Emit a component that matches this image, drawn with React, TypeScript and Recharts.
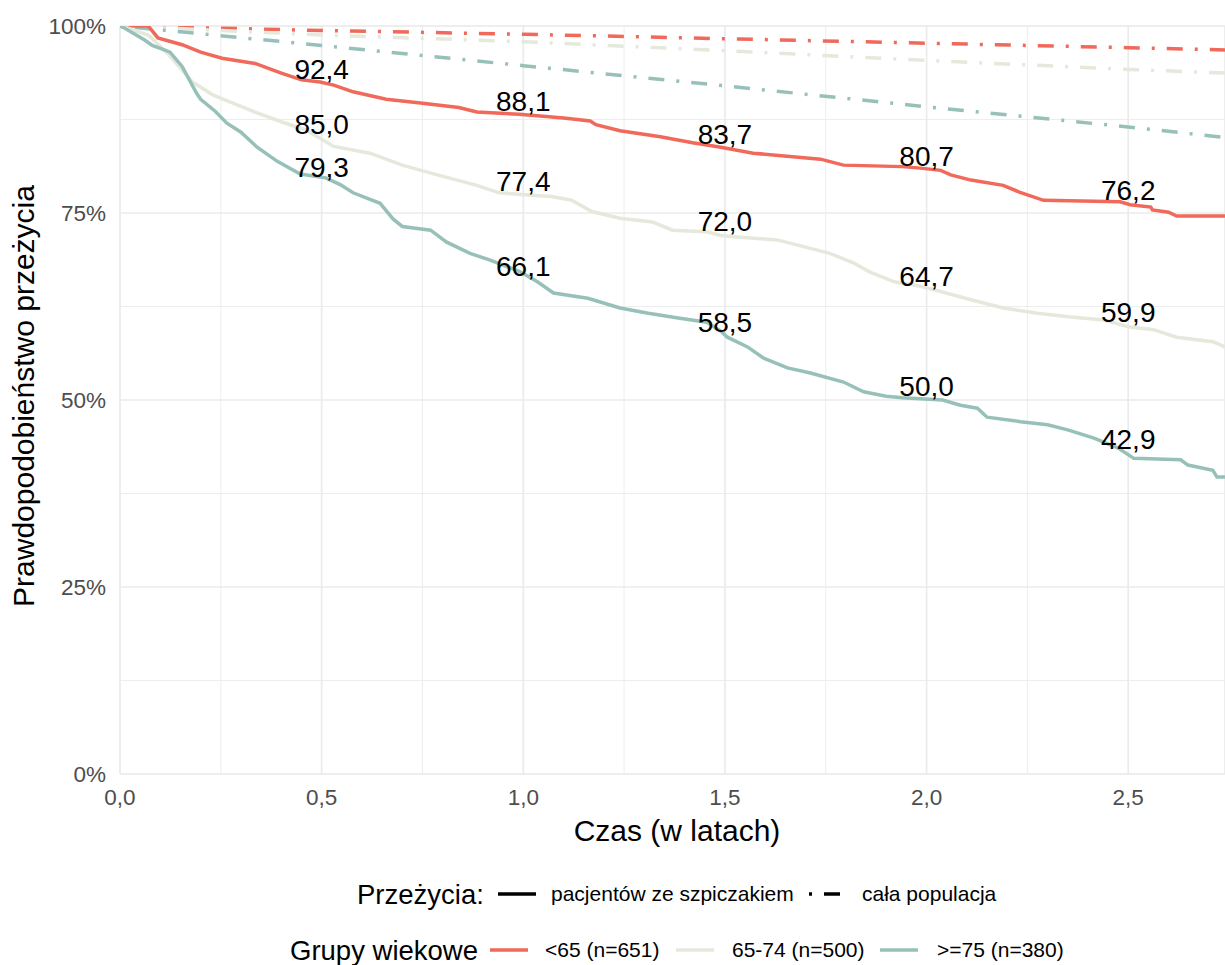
import React from 'react';
import { LineChart, Line, XAxis, YAxis, CartesianGrid, LabelList } from 'recharts';

const FONT = '"Liberation Sans", Arial, sans-serif';

// ---- colours ----
const RED = '#F0695A';
const LIGHT = '#E4E9DC';
const TEAL = '#97C1B8';

// ---- axes ----
const X_MAX = 2.74;
const xTicks = [0, 0.5, 1, 1.5, 2, 2.5];
const xMinor = [0.25, 0.75, 1.25, 1.75, 2.25];
const yTicks = [0, 25, 50, 75, 100];
const yMinor = [12.5, 37.5, 62.5, 87.5];

// ---- Kaplan-Meier: <65 (n=651) ----
const timesLt65 = [0, 0.07, 0.094, 0.154, 0.2, 0.253, 0.335, 0.4, 0.45, 0.496, 0.53, 0.578, 0.66, 0.745, 0.84, 0.885, 0.99, 1.1, 1.166, 1.18, 1.24, 1.34, 1.42, 1.49, 1.57, 1.737, 1.794, 1.94, 1.985, 2.035, 2.06, 2.11, 2.19, 2.23, 2.29, 2.48, 2.505, 2.556, 2.56, 2.6, 2.62, 2.74];
const survLt65 = [100, 100, 98.4, 97.5, 96.5, 95.7, 95.0, 93.7, 92.8, 92.5, 92.1, 91.2, 90.2, 89.7, 89.1, 88.5, 88.2, 87.7, 87.3, 86.8, 86.0, 85.2, 84.4, 83.8, 83.0, 82.2, 81.4, 81.2, 81.0, 80.7, 80.1, 79.4, 78.7, 77.8, 76.7, 76.5, 76.1, 75.8, 75.4, 75.1, 74.6, 74.6];

// ---- Kaplan-Meier: 65-74 (n=500) ----
const times6574 = [0, 0.02, 0.07, 0.117, 0.149, 0.18, 0.23, 0.28, 0.335, 0.4, 0.46, 0.496, 0.53, 0.62, 0.7, 0.787, 0.885, 0.94, 1.04, 1.07, 1.12, 1.17, 1.24, 1.32, 1.37, 1.455, 1.49, 1.53, 1.63, 1.695, 1.76, 1.82, 1.86, 1.92, 1.985, 2.035, 2.11, 2.19, 2.275, 2.357, 2.44, 2.5, 2.563, 2.62, 2.71, 2.74];
const surv6574 = [100, 99.7, 98.8, 96.4, 94.4, 92.5, 90.8, 89.7, 88.5, 87.2, 86.1, 85.0, 83.9, 83.0, 81.4, 80.1, 78.7, 77.7, 77.3, 77.2, 76.7, 75.2, 74.3, 73.8, 72.7, 72.5, 72.0, 71.8, 71.4, 70.5, 69.6, 68.3, 67.1, 65.8, 65.2, 64.5, 63.4, 62.3, 61.6, 61.1, 60.7, 59.8, 59.4, 58.4, 57.8, 57.1];

// ---- Kaplan-Meier: >=75 (n=380) ----
const timesGe75 = [0, 0.012, 0.062, 0.08, 0.11, 0.124, 0.154, 0.19, 0.2, 0.236, 0.265, 0.3, 0.34, 0.39, 0.447, 0.51, 0.546, 0.578, 0.645, 0.677, 0.7, 0.77, 0.81, 0.868, 0.918, 0.99, 1.035, 1.075, 1.16, 1.24, 1.31, 1.38, 1.455, 1.49, 1.506, 1.556, 1.596, 1.655, 1.712, 1.794, 1.844, 1.9, 1.94, 2.04, 2.084, 2.126, 2.15, 2.233, 2.3, 2.35, 2.415, 2.474, 2.514, 2.63, 2.648, 2.71, 2.72, 2.74];
const survGe75 = [100, 99.7, 98.1, 97.4, 96.8, 96.5, 94.6, 91.0, 90.2, 88.6, 87.0, 85.8, 83.8, 81.9, 80.2, 79.7, 78.8, 77.7, 76.3, 74.2, 73.2, 72.7, 71.1, 69.6, 68.7, 67.2, 65.8, 64.3, 63.6, 62.3, 61.6, 61.0, 60.4, 59.2, 58.4, 57.1, 55.6, 54.3, 53.6, 52.4, 51.1, 50.5, 50.3, 50.0, 49.3, 48.9, 47.7, 47.1, 46.7, 46.0, 44.9, 43.6, 42.2, 42.0, 41.3, 40.6, 39.7, 39.7];

// ---- expected survival of the whole population (dash-dot) ----
const popTimes = [0, 0.5, 1, 1.5, 2, 2.5, 2.74];
const popLt65 = [100, 99.4, 98.9, 98.3, 97.7, 97.1, 96.8];
const pop6574 = [100, 98.8, 97.9, 96.7, 95.4, 94.2, 93.7];
const popGe75 = [100, 97.4, 94.7, 92.0, 89.2, 86.5, 85.1];

// ---- annotated values ----
const labelTimes = [0.5, 1, 1.5, 2, 2.5];
const labelsLt65 = [92.4, 88.1, 83.7, 80.7, 76.2];
const labels6574 = [85.0, 77.4, 72.0, 64.7, 59.9];
const labelsGe75 = [79.3, 66.1, 58.5, 50.0, 42.9];

// ---- legend texts ----
const legendTitle1 = 'Przeżycia:';
const legendItems1 = ['pacjentów ze szpiczakiem', 'cała populacja'];
const legendTitle2 = 'Grupy wiekowe';
const legendItems2 = ['<65 (n=651)', '65-74 (n=500)', '>=75 (n=380)'];

const xTitle = 'Czas (w latach)';
const yTitle = 'Prawdopodobieństwo przeżycia';

const zip = (ts: number[], vs: number[]) => ts.map((t, i) => ({ t, s: vs[i] }));

const kmLt65 = zip(timesLt65, survLt65);
const km6574 = zip(times6574, surv6574);
const kmGe75 = zip(timesGe75, survGe75);
const pLt65 = zip(popTimes, popLt65);
const p6574 = zip(popTimes, pop6574);
const pGe75 = zip(popTimes, popGe75);
const lLt65 = zip(labelTimes, labelsLt65);
const l6574 = zip(labelTimes, labels6574);
const lGe75 = zip(labelTimes, labelsGe75);

const comma = (v: number) => v.toFixed(1).replace('.', ',');

const DASHDOT = '3 12 16 12';

const renderValueLabel = (props: any) => {
  const { x, y, value } = props;
  return (
    <text x={x} y={y - 4} textAnchor="middle" fontSize={28} fontFamily={FONT} fill="#000">
      {comma(Number(value))}
    </text>
  );
};

const tickStyle = { fill: '#4D4D4D', fontSize: 22.5, fontFamily: FONT };

export default function App() {
  const lineCommon = {
    dataKey: 's',
    type: 'linear' as const,
    dot: false,
    activeDot: false,
    isAnimationActive: false,
    strokeWidth: 3.5,
  };
  return (
    <div style={{ position: 'absolute', left: 0, top: 0, width: 1225, height: 965, background: '#fff', fontFamily: FONT }}>
      <LineChart width={1225} height={965} margin={{ top: 26, right: 0, bottom: 161, left: 0 }}>
        <XAxis xAxisId="minor" type="number" dataKey="t" domain={[0, X_MAX]} ticks={xMinor} hide allowDataOverflow />
        <YAxis yAxisId="minor" type="number" domain={[0, 100]} ticks={yMinor} hide allowDataOverflow />
        <CartesianGrid xAxisId="minor" yAxisId="minor" stroke="#EBEBEB" strokeWidth={0.9} />
        <XAxis
          type="number"
          dataKey="t"
          domain={[0, X_MAX]}
          ticks={xTicks}
          tickFormatter={comma}
          axisLine={false}
          tickLine={false}
          tickSize={0}
          tickMargin={15}
          height={30}
          tick={tickStyle}
          allowDataOverflow
          interval={0}
        />
        <YAxis
          type="number"
          domain={[0, 100]}
          ticks={yTicks}
          tickFormatter={(v: number) => `${v}%`}
          axisLine={false}
          tickLine={false}
          tickSize={0}
          tickMargin={14}
          width={120}
          tick={tickStyle}
          allowDataOverflow
          interval={0}
        />
        <CartesianGrid stroke="#EBEBEB" strokeWidth={1.7} />

        <Line {...lineCommon} data={pLt65} stroke={RED} strokeDasharray={DASHDOT} />
        <Line {...lineCommon} data={p6574} stroke={LIGHT} strokeDasharray={DASHDOT} />
        <Line {...lineCommon} data={pGe75} stroke={TEAL} strokeDasharray={DASHDOT} />

        <Line {...lineCommon} data={kmLt65} stroke={RED} />
        <Line {...lineCommon} data={km6574} stroke={LIGHT} />
        <Line {...lineCommon} data={kmGe75} stroke={TEAL} />

        <Line {...lineCommon} data={lLt65} stroke="none">
          <LabelList dataKey="s" content={renderValueLabel} />
        </Line>
        <Line {...lineCommon} data={l6574} stroke="none">
          <LabelList dataKey="s" content={renderValueLabel} />
        </Line>
        <Line {...lineCommon} data={lGe75} stroke="none">
          <LabelList dataKey="s" content={renderValueLabel} />
        </Line>
      </LineChart>

      <svg
        width={1225}
        height={965}
        style={{ position: 'absolute', left: 0, top: 0, pointerEvents: 'none' }}
        fontFamily={FONT}
      >
        <text x={677} y={841} textAnchor="middle" fontSize={30} fill="#000">{xTitle}</text>
        <text x={34} y={396} textAnchor="middle" fontSize={30} fill="#000" transform="rotate(-90 34 396)">{yTitle}</text>

        {/* legend row 1 */}
        <text x={357} y={904} fontSize={27.5} fill="#000">{legendTitle1}</text>
        <line x1={498} x2={536} y1={894} y2={894} stroke="#000" strokeWidth={3.5} />
        <text x={551} y={901} fontSize={21} fill="#000">{legendItems1[0]}</text>
        <line x1={809} x2={843} y1={894} y2={894} stroke="#000" strokeWidth={3.5} strokeDasharray={DASHDOT} />
        <text x={862} y={901} fontSize={21} fill="#000">{legendItems1[1]}</text>

        {/* legend row 2 */}
        <text x={290} y={960} fontSize={27.5} fill="#000">{legendTitle2}</text>
        <line x1={490} x2={528} y1={950} y2={950} stroke={RED} strokeWidth={3.5} />
        <text x={545} y={957} fontSize={21} fill="#000">{legendItems2[0]}</text>
        <line x1={676} x2={714} y1={950} y2={950} stroke={LIGHT} strokeWidth={3.5} />
        <text x={732} y={957} fontSize={21} fill="#000">{legendItems2[1]}</text>
        <line x1={880} x2={918} y1={950} y2={950} stroke={TEAL} strokeWidth={3.5} />
        <text x={937} y={957} fontSize={21} fill="#000">{legendItems2[2]}</text>
      </svg>
    </div>
  );
}
